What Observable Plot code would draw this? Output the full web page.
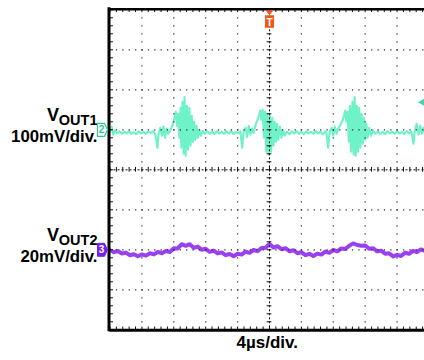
<!DOCTYPE html>
<html><head><meta charset="utf-8">
<script src="https://cdn.jsdelivr.net/npm/d3@7"></script>
<script src="https://cdn.jsdelivr.net/npm/@observablehq/plot@0.6"></script>
<style>body{margin:0;background:#fff;font-family:"Liberation Sans",Arial,sans-serif;}</style>
</head><body><div id="chart"></div>
<script>
// ---- Channel 2 (VOUT1): time in µs, value in mV (100 mV/div)
const ch2Time = [0,0.2,0.4,0.6,0.9,1.2,1.5,1.8,2.1,2.4,2.7,3.0,3.3,3.6,3.9,4.2,4.5,4.8,5.1,5.4,5.7,
5.95,6.1,6.3,6.5,6.7,6.9,7.1,7.3,7.6,7.9,8.1,8.25,8.4,8.55,8.7,8.85,8.95,9.1,9.25,9.35,9.5,9.65,9.8,9.95,10.1,10.25,10.4,10.55,10.7,10.85,11.0,11.2,11.4,11.6,11.9,
12.2,12.5,12.8,13.1,13.4,13.7,14.0,14.3,14.6,14.9,15.2,15.5,15.8,16.1,16.35,
16.58,16.75,17.0,17.2,17.4,17.6,17.8,18.0,18.3,18.6,18.85,19.0,19.15,19.3,19.45,19.6,19.75,19.9,20.05,20.2,20.35,20.5,20.65,20.8,20.95,21.1,21.3,21.5,21.7,21.9,22.2,
22.5,22.8,23.1,23.4,23.7,24.0,24.3,24.6,24.9,25.2,25.5,25.8,26.1,26.4,26.7,27.0,27.15,
27.36,27.55,27.8,28.0,28.2,28.4,28.6,28.9,29.2,29.5,29.65,29.8,29.95,30.1,30.25,30.4,30.55,30.68,30.82,30.95,31.1,31.25,31.4,31.55,31.7,31.85,32.0,32.15,32.3,32.5,32.7,33.0,33.3,
33.6,33.9,34.2,34.5,34.8,35.1,35.4,35.7,36.0,36.3,36.6,36.9,37.2,37.5,37.8,
38.06,38.2,38.45,38.7,38.9,39.1,39.3,39.45];
const ch2mV = [-4,8,-12,-2,-9,-4,-10,-5,-9,-3,-10,-6,-11,-4,-9,-5,-10,-4,-8,-3,-12,
-45,-8,5,-15,8,-20,3,-10,0,15,30,45,10,40,-20,55,-45,70,-60,82,-65,60,-50,55,-40,35,-30,20,-25,10,-20,0,-15,-3,-10,
-4,-10,-5,-11,-3,-9,-5,-10,-4,-9,-3,-11,-5,-9,-4,
-45,-5,5,-18,10,-12,3,-8,15,30,48,25,50,-20,45,-55,40,-62,35,-55,30,-40,20,-30,15,-25,8,-20,0,-15,-5,
-11,-4,-9,-3,-10,-5,-11,-4,-9,-5,-10,-3,-9,-5,-11,-4,-9,
-45,-5,5,-15,8,-10,2,12,25,48,20,45,-30,60,-55,70,-62,82,-65,60,-55,55,-45,40,-35,30,-25,15,-20,5,-15,-2,-10,
-4,-10,-5,-11,-3,-9,-5,-10,-4,-9,-5,-11,-3,-9,-5,
-35,-5,15,-12,10,-10,5,-8];

// ---- Channel 3 (VOUT2): time in µs, value in mV (20 mV/div)
const ch3Time = [0,0.5,1,1.5,2,2.5,3,3.5,4,4.5,5,5.5,6,6.5,7,7.5,8,8.5,9,9.5,
10,10.5,11,11.5,12,12.5,13,13.5,14,14.5,15,15.5,16,16.5,17,17.5,18,18.5,19,19.5,
20,20.5,21,21.5,22,22.5,23,23.5,24,24.5,25,25.5,26,26.5,27,27.5,28,28.5,29,29.5,
30,30.5,31,31.5,32,32.5,33,33.5,34,34.5,35,35.5,36,36.5,37,37.5,38,38.5,39,39.4];
const ch3mV = [-0.2,-1.2,-0.6,-1.9,-1.4,-2.7,-2.2,-3.2,-2.3,-2.9,
-1.7,-2.3,-1.1,-1.7,-0.6,-1.1,0.8,0.7,2.8,2.0,
2.8,1.0,1.6,0.0,0.5,-1.0,-0.4,-1.8,-1.3,-2.7,
-2.1,-3.2,-2.0,-2.4,-0.9,-1.5,-0.1,-0.7,0.9,1.0,
2.9,1.1,1.8,0.3,0.8,-0.7,-0.2,-1.7,-1.2,-2.7,
-2.0,-3.1,-1.9,-2.4,-0.9,-1.5,-0.1,-0.8,0.7,0.4,
2.0,3.2,2.4,2.0,2.2,0.5,0.8,-0.8,-0.4,-2.0,
-1.7,-3.3,-2.5,-3.1,-1.5,-2.0,-0.5,-1.1,0.2,-0.4];

// ---- Channel settings and labels
const chIds = ["2", "3"];
const chNames = ["V", "V"];
const chSubs = ["OUT1", "OUT2"];
const chScaleLabels = ["100mV/div.", "20mV/div."];
const chScales = [100, 20];      // mV per division
const chOffsets = [1, -2];       // ground marker position, divisions
const timeLabel = "4µs/div.";
const timePerDiv = 4;            // µs
const triggerTime = [20];        // µs
const triggerLevel = [69];       // mV on channel 2
const triggerLabel = "T";

const teal = "#6ef2c8", tealDark = "#2ec795", purple = "#9a3ff2", purpleDark = "#7420e8", orange = "#f2561d";

const ch2 = ch2Time.map((t, i) => ({t, v: ch2mV[i]}));
const ch3 = ch3Time.map((t, i) => ({t, v: ch3mV[i]}));
const channels = chIds.map((id, i) => ({id, name: chNames[i], sub: chSubs[i], scaleLabel: chScaleLabels[i], offset: chOffsets[i]}));

const xMax = 39.44;
const vGrid = d3.range(1, 10).filter(k => k !== 5).map(k => k * timePerDiv);
const hGrid = [-3, -2, -1, 1, 2, 3];
const minorY = d3.range(-40, 41, 2).map(k => k / 10);
const minorX = d3.range(0, 50).map(k => k * timePerDiv / 5).filter(t => t <= xMax);

const chTag = {draw(ctx) { ctx.moveTo(-5,-6.5); ctx.lineTo(2,-6.5); ctx.lineTo(5,0); ctx.lineTo(2,6.5); ctx.lineTo(-5,6.5); ctx.closePath(); }};
const trigTag = {draw(ctx) { ctx.moveTo(-4,-11.5); ctx.lineTo(4,-11.5); ctx.lineTo(0,-6.5); ctx.closePath();
  ctx.moveTo(-4.5,-6.5); ctx.lineTo(4.5,-6.5); ctx.lineTo(4.5,6); ctx.lineTo(-4.5,6); ctx.closePath(); }};

const font = "Liberation Sans, Arial, sans-serif";
const grid = "#333";

const chart = Plot.plot({
  width: 424, height: 360,
  marginLeft: 109.5, marginRight: 0, marginTop: 9.3, marginBottom: 30.7,
  x: {domain: [0, xMax], axis: null},
  y: {domain: [-4, 4], axis: null},
  style: {background: "#fff", fontFamily: font, overflow: "visible"},
  marks: [
    Plot.line(ch2, {x: "t", y: d => chOffsets[0] + d.v / chScales[0], stroke: teal, strokeWidth: 2.1, clip: true}),
    Plot.line(ch3, {x: "t", y: d => chOffsets[1] + d.v / chScales[1], stroke: purple, strokeWidth: 4, clip: true}),
    // dotted graticule
    Plot.ruleX(vGrid, {stroke: grid, strokeWidth: 1.3, strokeDasharray: "1.3,6.7"}),
    Plot.ruleY(hGrid, {stroke: grid, strokeWidth: 1.3, strokeDasharray: "1.3,5.08"}),
    // center axes
    Plot.ruleX([20], {stroke: "#111", strokeWidth: 1, strokeDasharray: "2,2"}),
    Plot.ruleY([0], {stroke: "#111", strokeWidth: 1, strokeDasharray: "2,2"}),
    Plot.ruleY(minorY, {y: d => d, x1: 20 - 0.3, x2: 20 + 0.3, stroke: "#111", strokeWidth: 1}),
    Plot.ruleX(minorX, {x: d => d, y1: -0.06, y2: 0.06, stroke: "#111", strokeWidth: 1}),
    // border ticks
    Plot.ruleY(minorY, {y: d => d, x1: 0, x2: 0.45, stroke: "#111", strokeWidth: 1}),
    Plot.ruleX(minorX, {x: d => d, y1: 4, y2: 3.93, stroke: "#111", strokeWidth: 1}),
    Plot.ruleX(minorX, {x: d => d, y1: -4, y2: -3.93, stroke: "#111", strokeWidth: 1}),
    // frame
    Plot.ruleX([0], {y1: -4.05, y2: 4.05, stroke: "#000", strokeWidth: 3, dx: -1}),
    Plot.ruleY([4], {stroke: "#000", strokeWidth: 2.5, dy: -0.5}),
    Plot.ruleY([-4], {stroke: "#000", strokeWidth: 3, dy: 0.5}),
    // channel labels
    Plot.text(channels, {x: () => 0, y: "offset", text: "name", dx: -51, dy: -15, textAnchor: "end", fontSize: 18, fontWeight: "bold", fill: "#000"}),
    Plot.text(channels, {x: () => 0, y: "offset", text: "sub", dx: -12.5, dy: -9, textAnchor: "end", fontSize: 14.5, fontWeight: "bold", fill: "#000"}),
    Plot.text(channels, {x: () => 0, y: "offset", text: "scaleLabel", dx: -12.5, dy: 7, textAnchor: "end", fontSize: 16.8, fontWeight: "bold", fill: "#000"}),
    // channel ground markers
    Plot.dot(channels.filter(c => c.id === "2"), {x: () => 0, y: "offset", dx: -7.5, symbol: chTag, r: 5, fill: "#fff", stroke: tealDark, strokeWidth: 1.2}),
    Plot.text(channels.filter(c => c.id === "2"), {x: () => 0, y: "offset", dx: -8.5, text: "id", fill: tealDark, fontSize: 10, fontWeight: "bold"}),
    Plot.dot(channels.filter(c => c.id === "3"), {x: () => 0, y: "offset", dx: -7.5, symbol: chTag, r: 5, fill: purpleDark, stroke: purpleDark, strokeWidth: 1}),
    Plot.text(channels.filter(c => c.id === "3"), {x: () => 0, y: "offset", dx: -8.5, text: "id", fill: "#fff", fontSize: 10, fontWeight: "bold"}),
    // trigger markers
    Plot.dot(triggerTime, {x: d => d, y: () => 4, dy: 12, symbol: trigTag, r: 5, fill: orange}),
    Plot.text(triggerTime, {x: d => d, y: () => 4, dy: 12.5, text: () => triggerLabel, fill: "#fff", fontSize: 10, fontWeight: "bold"}),
    Plot.dot(triggerLevel, {x: () => xMax, y: d => chOffsets[0] + d / chScales[0], dx: -1, symbol: "triangle", rotate: -90, r: 3.5, fill: "#3fd9a6"}),
    // time base label
    Plot.text([timeLabel], {frameAnchor: "bottom", text: d => d, dy: 17.7, fontSize: 17, fontWeight: "bold", fill: "#000"})
  ]
});
document.getElementById("chart").appendChild(chart);
</script>
</body></html>
